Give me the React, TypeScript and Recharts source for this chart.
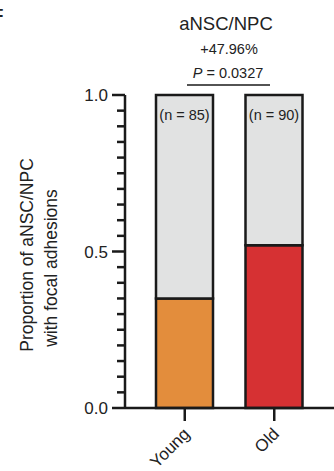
import React from "react";
import { BarChart, Bar, XAxis, YAxis, Cell, LabelList } from "recharts";

const groups = ["Young", "Old"];
const withAdhesions = [0.35, 0.52];
const withoutAdhesions = [0.65, 0.48];
const cellCounts = [85, 90];
const groupColors = ["#e38d3c", "#d63133"];
const restColor = "#e1e2e2";
const yMajorTicks = [0, 0.5, 1.0];
const yAllTicks = [0, 0.05, 0.1, 0.15, 0.2, 0.25, 0.3, 0.35, 0.4, 0.45, 0.5, 0.55, 0.6, 0.65, 0.7, 0.75, 0.8, 0.85, 0.9, 0.95, 1.0];
const title = "aNSC/NPC";
const changeText = "+47.96%";
const pValue = "0.0327";

const data = groups.map((g, i) => ({
  group: g,
  withFA: withAdhesions[i],
  withoutFA: withoutAdhesions[i],
  n: cellCounts[i],
}));

const FONT = '"Liberation Sans", Arial, Helvetica, sans-serif';
const INK = "#1a1a1a";

const YTick = (props: any) => {
  const { x, y, payload } = props;
  const major = yMajorTicks.some((t) => Math.abs(t - payload.value) < 1e-9);
  return (
    <g>
      <line x1={x - (major ? 13 : 8)} x2={x} y1={y} y2={y} stroke={INK} strokeWidth={2.5} />
      {major && (
        <text x={x - 17} y={y} dy="0.36em" textAnchor="end" fontSize={17} fill="#222" fontFamily={FONT}>
          {Number(payload.value).toFixed(1)}
        </text>
      )}
    </g>
  );
};

const XTick = (props: any) => {
  const { x, y, payload } = props;
  return (
    <text
      x={x + 6}
      y={y + 12}
      textAnchor="end"
      fontSize={17}
      fill="#222"
      fontFamily={FONT}
      transform={`rotate(-45 ${x + 6} ${y + 12})`}
    >
      {payload.value}
    </text>
  );
};

const NLabel = (props: any) => {
  const { x, y, width, index } = props;
  return (
    <text
      x={x + width / 2}
      y={y + 20}
      dominantBaseline="central"
      textAnchor="middle"
      fontSize={14.5}
      fill="#222"
      fontFamily={FONT}
    >
      {`(n = ${cellCounts[index]})`}
    </text>
  );
};

export default function App() {
  return (
    <div style={{ position: "absolute", left: 0, top: 0, width: 334, height: 471, background: "#fff" }}>
      <BarChart
        width={334}
        height={471}
        data={data}
        margin={{ top: 95, right: 0, bottom: 0, left: 0 }}
        barSize={57}
      >
        <XAxis
          dataKey="group"
          type="category"
          height={63}
          padding={{ left: 15, right: 15 }}
          axisLine={{ stroke: INK, strokeWidth: 2.5 }}
          tickLine={{ stroke: INK, strokeWidth: 2.5 }}
          tickSize={13}
          tickMargin={2}
          tick={<XTick />}
          interval={0}
        />
        <YAxis
          type="number"
          domain={[0, 1]}
          ticks={yAllTicks}
          interval={0}
          width={125}
          axisLine={{ stroke: INK, strokeWidth: 2.5 }}
          tickLine={false}
          tickSize={0}
          tickMargin={0}
          tick={<YTick />}
        />
        <Bar dataKey="withFA" stackId="a" stroke={INK} strokeWidth={2.5} isAnimationActive={false}>
          {data.map((d, i) => (
            <Cell key={d.group} fill={groupColors[i]} />
          ))}
        </Bar>
        <Bar dataKey="withoutFA" stackId="a" fill={restColor} stroke={INK} strokeWidth={2.5} isAnimationActive={false}>
          <LabelList dataKey="n" content={<NLabel />} />
        </Bar>
      </BarChart>
      <svg width={334} height={471} style={{ position: "absolute", left: 0, top: 0, pointerEvents: "none" }}>
        <text x={-7} y={21} fontSize={17} fontWeight="bold" fontFamily={FONT} fill="#222">F</text>
        <text x={226} y={30} textAnchor="middle" fontSize={18.5} fontFamily={FONT} fill="#222">{title}</text>
        <text x={229} y={54} textAnchor="middle" fontSize={14.5} fontFamily={FONT} fill="#222">{changeText}</text>
        <text x={228} y={78} textAnchor="middle" fontSize={14.5} fontFamily={FONT} fill="#222">
          <tspan fontStyle="italic">P</tspan> = {pValue}
        </text>
        <line x1={187} x2={270} y1={85} y2={85} stroke={INK} strokeWidth={1.5} />
        <g fontFamily={FONT} fontSize={17.5} fill="#222" textAnchor="middle">
          <text x={33} y={255} transform="rotate(-90 33 255)">Proportion of aNSC/NPC</text>
          <text x={57} y={268} transform="rotate(-90 57 268)">with focal adhesions</text>
        </g>
      </svg>
    </div>
  );
}
